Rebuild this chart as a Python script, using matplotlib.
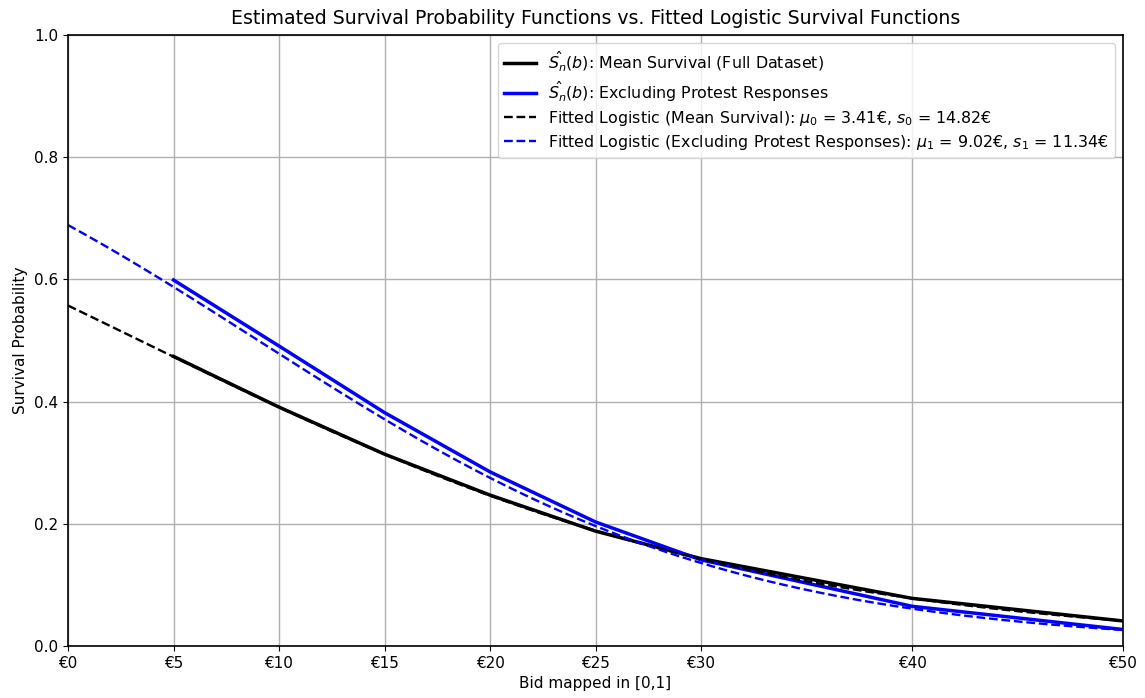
import numpy as np
import matplotlib
matplotlib.use("Agg")
import matplotlib.pyplot as plt

bids = [5, 10, 15, 20, 25, 30, 40, 50]
surv_full = [0.474, 0.391, 0.314, 0.247, 0.188, 0.143, 0.078, 0.041]
surv_excl = [0.599, 0.491, 0.382, 0.285, 0.203, 0.141, 0.065, 0.027]
mu0, s0 = 3.41, 14.82
mu1, s1 = 9.02, 11.34
xticks = [0, 5, 10, 15, 20, 25, 30, 40, 50]
xticklabels = ["€0", "€5", "€10", "€15", "€20", "€25", "€30", "€40", "€50"]

def logistic_surv(b, mu, s):
    return 1.0 / (1.0 + np.exp((b - mu) / s))

fig = plt.figure(figsize=(11.45, 6.98), dpi=100)
ax = fig.add_axes([68/1145, 1 - 646/698, (1123-68)/1145, (646-35)/698])

bgrid = np.linspace(0, 50, 300)
ax.plot(bids, surv_full, color="black", lw=2.5, label=r"$\hat{S_n}(b)$: Mean Survival (Full Dataset)")
ax.plot(bids, surv_excl, color="blue", lw=2.5, label=r"$\hat{S_n}(b)$: Excluding Protest Responses")
ax.plot(bgrid, logistic_surv(bgrid, mu0, s0), color="black", ls="--", lw=1.7,
        label=r"Fitted Logistic (Mean Survival): $\mu_0$ = 3.41€, $s_0$ = 14.82€")
ax.plot(bgrid, logistic_surv(bgrid, mu1, s1), color="blue", ls="--", lw=1.7,
        label=r"Fitted Logistic (Excluding Protest Responses): $\mu_1$ = 9.02€, $s_1$ = 11.34€")

ax.set_xlim(0, 50)
ax.set_ylim(0, 1.0)
ax.set_xticks(xticks)
ax.set_xticklabels(xticklabels)
ax.set_yticks([0, 0.2, 0.4, 0.6, 0.8, 1.0])
ax.tick_params(labelsize=11)
ax.grid(True, color="#b0b0b0", lw=1.0)
ax.set_xlabel("Bid mapped in [0,1]", fontsize=11, labelpad=4)
ax.set_ylabel("Survival Probability", fontsize=11)
ax.set_title("Estimated Survival Probability Functions vs. Fitted Logistic Survival Functions", fontsize=13.6, pad=8)
ax.legend(loc="upper right", fontsize=11.4, framealpha=0.8, labelspacing=0.32,
          borderaxespad=0.5, handletextpad=0.8)
for sp in ax.spines.values():
    sp.set_linewidth(1.2)

fig.savefig("out.png", dpi=100)
